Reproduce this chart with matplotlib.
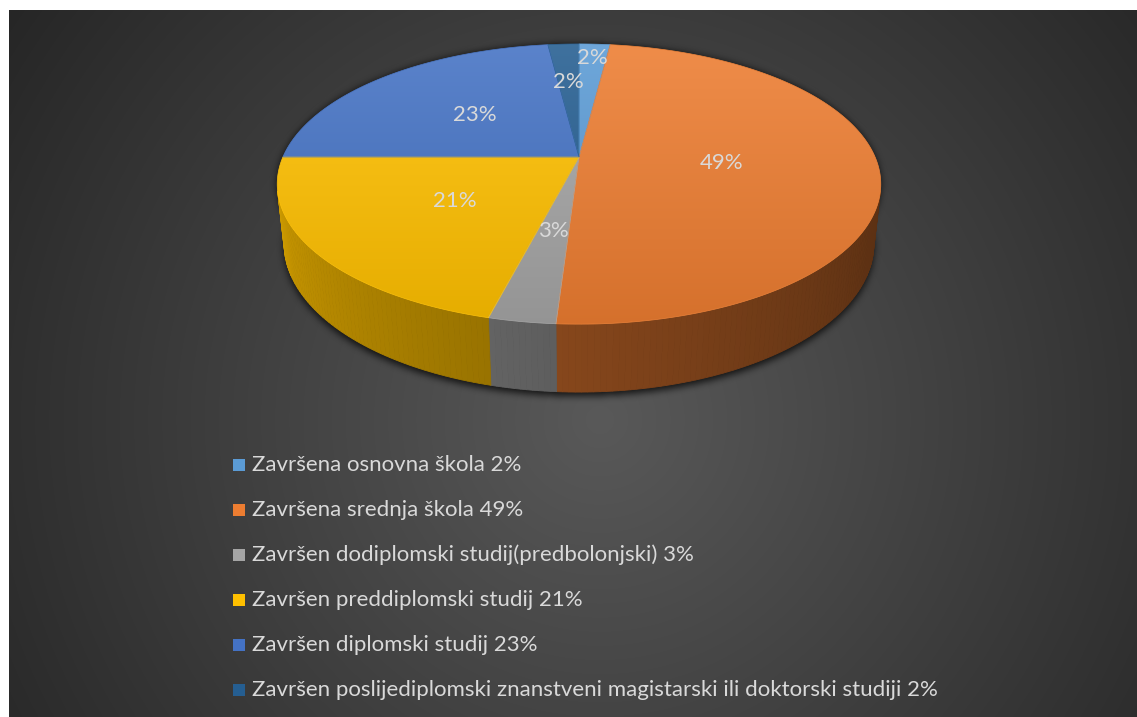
import numpy as np
import matplotlib
matplotlib.use("Agg")
import matplotlib.pyplot as plt
from matplotlib.patches import Polygon, Rectangle
from matplotlib.path import Path
from matplotlib.colors import to_rgb

# razine obrazovanja i udjeli (%)
labels = ["Završena osnovna škola",
          "Završena srednja škola",
          "Završen dodiplomski studij(predbolonjski)",
          "Završen preddiplomski studij",
          "Završen diplomski studij",
          "Završen poslijediplomski znanstveni magistarski ili doktorski studiji"]
shares = [2, 49, 3, 21, 23, 2]
colors = ["#5B9BD5", "#ED7D31", "#A5A5A5", "#FFC000", "#4472C4", "#255E91"]
label_r = [0.86, 0.48, 0.5, 0.5, 0.5, 0.62]

W, H = 1137, 717
fig = plt.figure(figsize=(W / 100, H / 100), dpi=100)
ax = fig.add_axes([0, 0, 1, 1])
ax.set_xlim(0, W)
ax.set_ylim(H, 0)
ax.axis("off")

# tamna radijalna pozadina
yy, xx = np.mgrid[0:H, 0:W] + 0.5
rr = np.clip(np.hypot(xx - 600, yy - 420) / 720, 0, 1)
g = (89 - 51 * rr) / 255
bg = np.dstack([g, g, g])
bg[:10, :, :] = 1
bg[:, :9, :] = 1
ax.imshow(bg, extent=(0, W, H, 0), zorder=0, interpolation="bilinear")

# perspektivna projekcija 3D pite
cx, cy = 579, 157
F, L = 1365.0, 4.61
sa, ca = np.sin(np.radians(27.1)), np.cos(np.radians(27.1))
depth = 0.228


def proj(u, v, z):
    d = L + v * ca - z * sa
    return cx + F * u / d, cy - F * (v * sa + z * ca) / d


total = sum(shares)
edges = np.concatenate([[0], np.cumsum(shares)]) / total * 360

# sjena ispod pite
t = np.radians(np.linspace(0, 360, 361))
tx, ty = proj(np.sin(t), np.cos(t), 0)
bx, by = proj(np.sin(t), np.cos(t), -depth)
pts = np.column_stack([xx.ravel(), yy.ravel()])
mask = (Path(np.column_stack([tx, ty])).contains_points(pts) |
        Path(np.column_stack([bx, by + 4])).contains_points(pts)).reshape(H, W).astype(float)


def blur1d(a, k, axis):
    a = np.moveaxis(a, axis, 0)
    n = a.shape[0]
    p = np.pad(a, ((k, k), (0, 0)), mode="edge")
    c = np.vstack([np.zeros((1, p.shape[1])), np.cumsum(p, axis=0)])
    out = (c[2 * k + 1:2 * k + 1 + n] - c[:n]) / (2 * k + 1)
    return np.moveaxis(out, 0, axis)


for _ in range(3):
    mask = blur1d(blur1d(mask, 3, 0), 3, 1)
shadow = np.zeros((H, W, 4))
shadow[..., 3] = 0.75 * mask
ax.imshow(shadow, extent=(0, W, H, 0), zorder=1, interpolation="bilinear")


def side_shade(theta):
    return 0.38 + 0.47 * np.clip((theta - 100) / 170, 0, 1) ** 1.3


# bočne stranice
for i, col in enumerate(colors):
    a0, a1 = edges[i], edges[i + 1]
    n = max(2, int(np.ceil(a1 - a0)))
    th = np.linspace(a0, a1, n + 1)
    base = np.array(to_rgb(col))
    for j in range(n):
        tm = 0.5 * (th[j] + th[j + 1])
        if np.cos(np.radians(tm)) > -1 / (L * ca):
            continue
        seg = np.radians([th[j], th[j + 1]])
        x0, y0 = proj(np.sin(seg), np.cos(seg), 0)
        x1, y1 = proj(np.sin(seg), np.cos(seg), -depth)
        quad = [(x0[0], y0[0]), (x0[1], y0[1]), (x1[1], y1[1]), (x1[0], y1[0])]
        c = np.clip(base * side_shade(tm), 0, 1)
        ax.add_patch(Polygon(quad, closed=True, facecolor=c, edgecolor=c,
                             lw=0.6, zorder=2))

# gornje plohe s vertikalnim prijelazom
ytop, ybot = proj(0, 1, 0)[1], proj(0, -1, 0)[1]
for i, col in enumerate(colors):
    a0, a1 = edges[i], edges[i + 1]
    th = np.radians(np.linspace(a0, a1, max(3, int(a1 - a0) * 2)))
    px, py = proj(np.sin(th), np.cos(th), 0)
    poly = [(cx, cy)] + list(zip(px, py))
    base = np.array(to_rgb(col))
    s = np.linspace(0, 1, 256)[:, None]
    light = base + 0.12 * (1 - base)
    dark = base * 0.9
    grad = (light[None, :] * (1 - s) + dark[None, :] * s)[:, None, :]
    patch = Polygon(poly, closed=True, facecolor="none", edgecolor="none")
    ax.add_patch(patch)
    im = ax.imshow(grad, extent=(200, 960, ybot, ytop), aspect="auto",
                   zorder=3, interpolation="bilinear")
    im.set_clip_path(patch)
    ax.add_patch(Polygon(poly, closed=True, facecolor="none",
                         edgecolor=np.clip(base * 0.95 + 0.05, 0, 1),
                         lw=0.5, zorder=3.5))

ax.set_xlim(0, W)
ax.set_ylim(H, 0)

# oznake udjela na pitu
font = "Lato"
for i, v in enumerate(shares):
    tm = np.radians(0.5 * (edges[i] + edges[i + 1]))
    r = label_r[i]
    lx, ly = proj(r * np.sin(tm), r * np.cos(tm), 0)
    ax.text(lx, ly, f"{v}%", ha="center", va="center", color="#D9D9D9",
            fontsize=16, family=font, zorder=5)

# legenda
for i, (lab, v, col) in enumerate(zip(labels, shares, colors)):
    y = 465 + i * 45
    ax.add_patch(Rectangle((233, y - 6), 12, 12, facecolor=col,
                           edgecolor="none", zorder=5))
    ax.text(252, y, f"{lab} {v}%", ha="left", va="center", color="#D9D9D9",
            fontsize=16, family=font, zorder=5)

fig.savefig("out.png", dpi=100)
